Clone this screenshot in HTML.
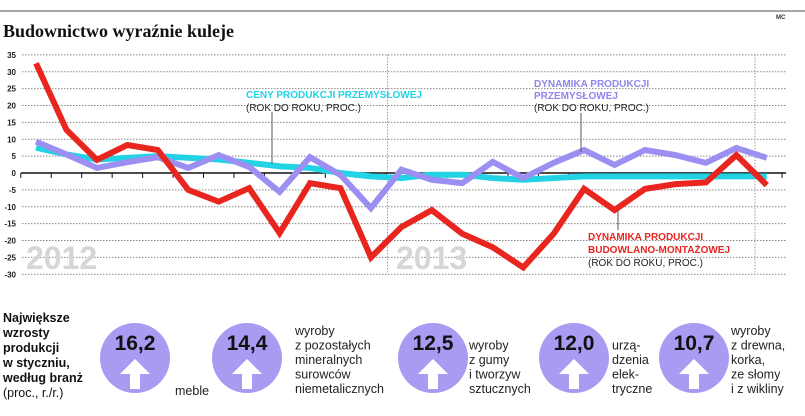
<!DOCTYPE html>
<html><head><meta charset="utf-8">
<style>
body{margin:0;background:#fff;width:805px;height:411px;overflow:hidden;font-family:"Liberation Sans",sans-serif;}
svg text{font-family:"Liberation Sans",sans-serif;}
svg text.serif{font-family:"Liberation Serif",serif;}
</style></head>
<body>
<svg id="chart" width="805" height="411" viewBox="0 0 805 411">
  <line x1="0" y1="11" x2="805" y2="11" stroke="#888" stroke-width="1.5"/>
  <text class="serif" x="3" y="37" font-weight="bold" font-size="18" fill="#111">Budownictwo wyraźnie kuleje</text>
  <text x="776" y="19" font-size="6" font-weight="bold" fill="#333">MC</text>
  <g id="grid"></g>
  <text x="26" y="269" font-size="32" font-weight="bold" fill="#d6d6d6">2012</text>
  <text x="396" y="269" font-size="32" font-weight="bold" fill="#d6d6d6">2013</text>
  <g id="series"></g>
  <g>
    <line x1="272" y1="112" x2="272" y2="164" stroke="#555" stroke-width="1"/>
    <text x="246" y="98" font-size="10" font-weight="bold" fill="#22d3e6">CENY PRODUKCJI PRZEMYSŁOWEJ</text>
    <text x="246" y="111" font-size="10" fill="#222">(ROK DO ROKU, PROC.)</text>
  </g>
  <g>
    <line x1="581" y1="113" x2="581" y2="152" stroke="#555" stroke-width="1"/>
    <text x="534" y="87" font-size="10" font-weight="bold" fill="#8f85ee">DYNAMIKA PRODUKCJI</text>
    <text x="534" y="99" font-size="10" font-weight="bold" fill="#8f85ee">PRZEMYSŁOWEJ</text>
    <text x="534" y="111" font-size="10" fill="#222">(ROK DO ROKU, PROC.)</text>
  </g>
  <g>
    <line x1="618" y1="210" x2="618" y2="230" stroke="#555" stroke-width="1"/>
    <text x="588" y="240" font-size="10" font-weight="bold" fill="#e8261f">DYNAMIKA PRODUKCJI</text>
    <text x="588" y="253" font-size="10" font-weight="bold" fill="#e8261f">BUDOWLANO-MONTAŻOWEJ</text>
    <text x="588" y="266" font-size="10" fill="#222">(ROK DO ROKU, PROC.)</text>
  </g>
  <g font-size="12.5" fill="#111">
    <text x="3" y="322" font-weight="bold">Największe</text>
    <text x="3" y="337" font-weight="bold">wzrosty</text>
    <text x="3" y="352" font-weight="bold">produkcji</text>
    <text x="3" y="367" font-weight="bold">w styczniu,</text>
    <text x="3" y="382" font-weight="bold">według branż</text>
    <text x="3" y="397">(proc., r./r.)</text>
  </g>
  <g id="badges"></g>
</svg>
<script>
const months = ["I.12","II","III","IV","V","VI","VII","VIII","IX","X","XI","XII","I.13","II","III","IV","V","VI","VII","VIII","IX","X","XI","XII","I.14"];
const yTicks = [35,30,25,20,15,10,5,0,-5,-10,-15,-20,-25,-30];
const construction = [32.5,12.8,3.9,8.3,6.8,-5,-8.5,-4.5,-17.8,-3,-4.5,-25,-16,-11,-18,-22,-28,-18,-4.7,-11,-4.7,-3.3,-2.8,5.3,-3.6];
const industry = [9.3,5.5,1.5,3.2,4.7,1.5,5.3,1.8,-5.6,4.7,-0.6,-10.4,1,-2,-3,3.3,-1.5,3,6.8,2.4,6.8,5.3,3,7.4,4.5];
const prices = [7.5,5.5,4,4.5,5,4.5,4,3,2,1.5,0,-1,-1.5,-0.5,-0.5,-1.5,-2,-1.5,-1,-1,-1,-1,-1,-1,-1];
const badgeValues = ["16,2","14,4","12,5","12,0","10,7"];
const badgeLabels = [["meble"],["wyroby","z pozostałych","mineralnych","surowców","niemetalicznych"],["wyroby","z gumy","i tworzyw","sztucznych"],["urzą-","dzenia","elek-","tryczne"],["wyroby","z drewna,","korka,","ze słomy","i z wikliny"]];

const NS="http://www.w3.org/2000/svg";
const x = i => 36 + i*30.45;
const y = v => 173 - v*3.375;
function mk(tag, attrs, parent){const e=document.createElementNS(NS,tag);for(const k in attrs)e.setAttribute(k,attrs[k]);parent.appendChild(e);return e;}

const grid=document.getElementById('grid');
yTicks.forEach(t=>{
  const l=mk('line',{x1:22,x2:786,y1:y(t),y2:y(t),stroke:'#888','stroke-width':1,'stroke-dasharray':'1.5 1.5'},grid);
  
  
  const tx=mk('text',{x:16,y:y(t)+3,'font-size':8,'font-weight':'bold','text-anchor':'end',fill:'#222'},grid);
  tx.textContent=t;
  
  
});
[387.5,755].forEach(vx=>{
  const v=mk('line',{x1:vx,x2:vx,y1:y(35),y2:y(-30),stroke:'#999','stroke-width':1,'stroke-dasharray':'1.5 1.5'},grid);
  
  
});
const zero=mk('line',{x1:21,x2:786,y1:y(0),y2:y(0),stroke:'#111','stroke-width':1.5},grid);


for(let i=0;i<=months.length;i++){
  const tk=mk('line',{x1:x(i)-15.2,x2:x(i)-15.2,y1:y(0),y2:y(0)+5,stroke:'#111','stroke-width':1},grid);
  
  
}

const ser=document.getElementById('series');
function line(data,color,w,name,smooth){
  const p=mk('polyline',{points:data.map((v,i)=>x(i)+','+y(v)).join(' '),fill:'none',stroke:color,'stroke-width':w,'stroke-linejoin':smooth?'round':'miter','stroke-linecap':'butt'},ser);
  
  
}
line(prices,'#22d3e6',6,'prices-line',true);
line(industry,'#9b90f2',6,'industry-line',false);
line(construction,'#e8261f',6,'construction-line',false);

const badges=document.getElementById('badges');
const cxs=[135,247,433,574,694];
const txs=[175,295,469,612,731];
badgeValues.forEach((val,i)=>{
  const g=mk('g',{},badges);
  
  
  mk('circle',{cx:cxs[i],cy:358,r:35,fill:'#a79cf2'},g);
  const t=mk('text',{x:cxs[i],y:350,'font-size':21,'font-weight':'bold','text-anchor':'middle',fill:'#111'},g);
  t.textContent=val;
  const c=cxs[i];
  mk('polygon',{points:`${c},359 ${c+15},374 ${c+5},374 ${c+5},389 ${c-5},389 ${c-5},374 ${c-15},374`,fill:'#fff'},g);
  const lines=badgeLabels[i];
  const startY=i===0?395:(393-(lines.length-1)*14.5);
  lines.forEach((s,j)=>{
    const lt=mk('text',{x:txs[i],y:startY+j*14.5,'font-size':12.5,fill:'#222'},g);
    lt.textContent=s;
  });
});
</script>
</body></html>
